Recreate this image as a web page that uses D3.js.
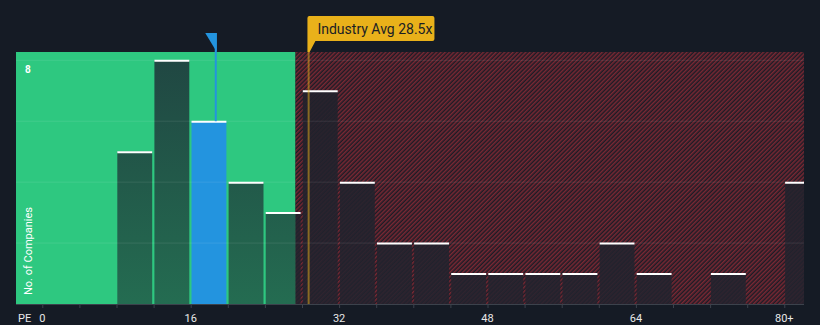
<!DOCTYPE html>
<html><head><meta charset="utf-8">
<script src="https://cdn.jsdelivr.net/npm/d3@7"></script>
<style>
html,body{margin:0;padding:0;background:#151b25;}
svg{display:block;}
text{font-family:Roboto, "DejaVu Sans", sans-serif;}
</style></head>
<body>
<svg id="c" width="820" height="325"></svg>
<script>
// ---- data ----
const binStarts = [0,4,8,12,16,20,24,28,32,36,40,44,48,52,56,60,64,68,72,76,80];
const binCounts = [0,0,5,8,6,4,3,7,4,2,2,1,1,1,1,2,1,0,1,0,4];
const tickValues = [0,16,32,48,64,80];
const tickLabels = ["0","16","32","48","64","80+"];
const companyPE = 18.7;
const industryAvg = 28.5;
const fairBoundary = 27.3;
const industryLabel = "Industry Avg 28.5x";
const yMaxLabel = "8";
const binWidth = 4;

const svg = d3.select("#c");
const W = 820, H = 325;
const plotL = 16, plotR = 804, plotT = 52, plotB = 304;

const x = d3.scaleLinear().domain([0, 80]).range([42.3, 784.3]);
const y = d3.scaleLinear().domain([0, 8]).range([plotB, 60.3]);

const defs = svg.append("defs");
const pat = defs.append("pattern").attr("id","hatch").attr("patternUnits","userSpaceOnUse")
  .attr("width",3).attr("height",3).attr("patternTransform","rotate(45)");
pat.append("rect").attr("width",3).attr("height",3).attr("fill","#1d1c26");
pat.append("rect").attr("width",1.5).attr("height",3).attr("fill","#7a2833");

const gGreen = defs.append("linearGradient").attr("id","gbar")
  .attr("gradientUnits","userSpaceOnUse").attr("y1",plotT).attr("y2",plotB).attr("x1",0).attr("x2",0);
gGreen.append("stop").attr("offset","0%").attr("stop-color","#204642");
gGreen.append("stop").attr("offset","100%").attr("stop-color","#246c51");

const gRed = defs.append("linearGradient").attr("id","rbar")
  .attr("gradientUnits","userSpaceOnUse").attr("x1",0).attr("x2",0).attr("y1",plotT).attr("y2",plotB);
gRed.append("stop").attr("offset","0%").attr("stop-color","#20212b").attr("stop-opacity",0.92);
gRed.append("stop").attr("offset","100%").attr("stop-color","#22232e").attr("stop-opacity",0.85);

const xb = x(fairBoundary);
defs.append("clipPath").attr("id","clipG").append("rect")
  .attr("x",plotL).attr("y",0).attr("width",xb-plotL).attr("height",H);
defs.append("clipPath").attr("id","clipR").append("rect")
  .attr("x",xb).attr("y",0).attr("width",plotR-xb).attr("height",H);
defs.append("clipPath").attr("id","clipP").append("rect")
  .attr("x",plotL).attr("y",0).attr("width",plotR-plotL).attr("height",H);

// regions
svg.append("rect").attr("x",plotL).attr("y",plotT).attr("width",xb-plotL).attr("height",plotB-plotT).attr("fill","#2ec880");
svg.append("rect").attr("x",xb).attr("y",plotT).attr("width",plotR-xb).attr("height",plotB-plotT).attr("fill","url(#hatch)");

const data = binStarts.map((b,i)=>({b, c: binCounts[i]}));
const bw = x(binWidth) - x(0);

function drawBars(g, fill) {
  g.selectAll("rect.bar").data(data.filter(d=>d.c>0)).join("rect")
    .attr("class","bar")
    .attr("x", d=>x(d.b)+0.8)
    .attr("y", d=>y(d.c))
    .attr("width", bw-2.2)
    .attr("height", d=>plotB - y(d.c))
    .attr("fill", d => (companyPE>=d.b && companyPE<d.b+binWidth) ? "#2394df" : fill);
}
const barsAll = svg.append("g").attr("clip-path","url(#clipP)");
drawBars(barsAll.append("g").attr("clip-path","url(#clipG)"), "url(#gbar)");
drawBars(barsAll.append("g").attr("clip-path","url(#clipR)"), "url(#rbar)");

// gridlines
svg.append("g").selectAll("line").data([2,4,6,8]).join("line")
  .attr("x1",plotL).attr("x2",plotR).attr("y1",d=>y(d)).attr("y2",d=>y(d))
  .attr("stroke","#ffffff").attr("stroke-opacity",0.09).attr("stroke-width",1);

// bar top lines
barsAll.append("g").selectAll("line").data(data.filter(d=>d.c>0)).join("line")
  .attr("x1",d=>x(d.b)+0.8).attr("x2",d=>x(d.b)+bw-1.4)
  .attr("y1",d=>y(d.c)+0.5).attr("y2",d=>y(d.c)+0.5)
  .attr("stroke","#ffffff").attr("stroke-width",2);

// axis
const axis = d3.axisBottom(x).tickValues(d3.range(0,84,4)).tickSize(4).tickFormat("");
const ga = svg.append("g").attr("transform",`translate(0,${plotB})`).call(axis);
ga.select(".domain").attr("d",`M${plotL},0.5H${plotR}`).attr("stroke","#3c424c");
ga.selectAll(".tick line").attr("stroke","#3c424c");
svg.append("g").selectAll("text").data(tickValues).join("text")
  .attr("x",d=>x(d)).attr("y",321.5).attr("text-anchor","middle")
  .attr("fill","#e8e8e8").attr("font-size",11).text((d,i)=>tickLabels[i]);
svg.append("text").attr("x",18).attr("y",321.5).attr("fill","#e8e8e8").attr("font-size",11).text("PE");

// y labels
svg.append("text").attr("x",25).attr("y",73).attr("fill","#ffffff").attr("font-size",10).attr("font-weight","bold").text(yMaxLabel);
svg.append("text").attr("transform","translate(32,251) rotate(-90)").attr("text-anchor","middle")
  .attr("fill","#ffffff").attr("font-size",11).text("No. of Companies");

// industry avg line and label
const xi = x(industryAvg) + 2;
svg.append("line").attr("x1",xi).attr("x2",xi).attr("y1",plotT).attr("y2",plotB)
  .attr("stroke","#e9b11a").attr("stroke-opacity",0.5).attr("stroke-width",2);
const lbl = svg.append("g");
const bx = xi-1.2, by = 16, bwid = 127, bh = 25;
lbl.append("path")
  .attr("d",`M${bx+2},${by} H${bx+bwid-2} Q${bx+bwid},${by} ${bx+bwid},${by+2} V${by+bh-2} Q${bx+bwid},${by+bh} ${bx+bwid-2},${by+bh} H${bx+8} L${bx+2.2},${plotT} H${bx} V${by+2} Q${bx},${by} ${bx+2},${by} Z`)
  .attr("fill","#e9b11a");
lbl.append("text").attr("x",bx+10).attr("y",by+18).attr("fill","#1b1e24").attr("font-size",14).text(industryLabel);

// company marker
const xc = x(companyPE);
svg.append("line").attr("x1",xc).attr("x2",xc).attr("y1",33).attr("y2",y(6))
  .attr("stroke","#2394df").attr("stroke-width",2);
svg.append("path").attr("d",`M${xc-10.5},33 H${xc+1} V${plotT} Z`).attr("fill","#2394df");
</script>
</body></html>
